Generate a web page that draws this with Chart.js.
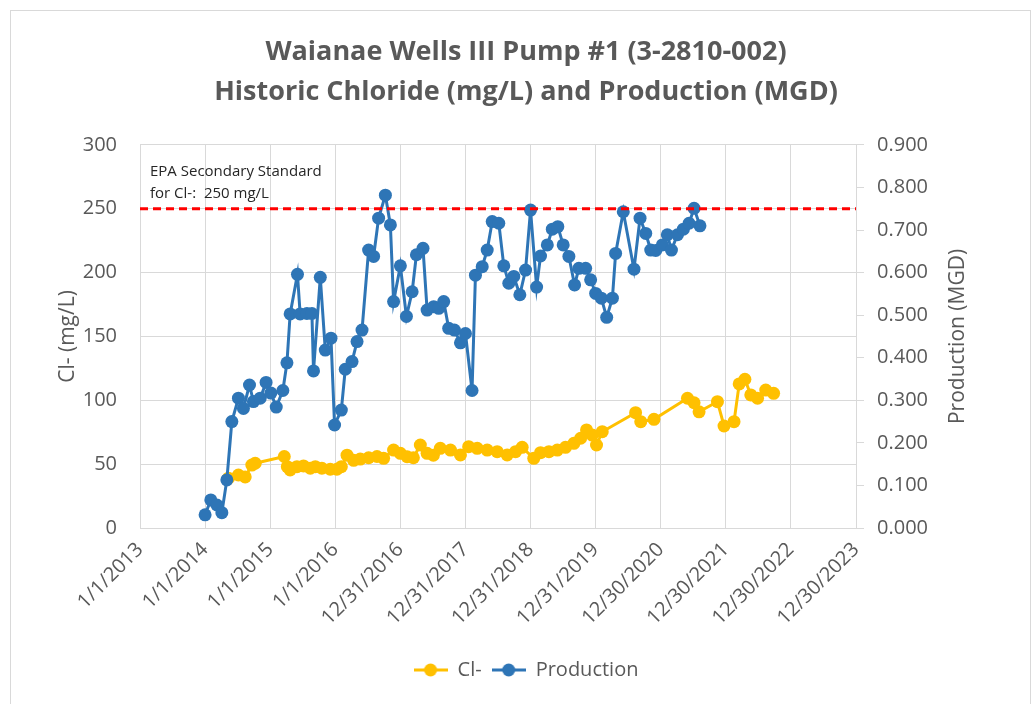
<!DOCTYPE html>
<html><head><meta charset="utf-8">
<script src="https://cdn.jsdelivr.net/npm/chart.js@4.4.1/dist/chart.umd.min.js"></script>
<style>html,body{margin:0;padding:0;background:#fff;}#wrap{position:relative;width:1032px;height:704px;}</style>
</head><body><div id="wrap"><canvas id="c" width="1032" height="704"></canvas></div>
<script>
const chartTitle = ['Waianae Wells III Pump #1 (3-2810-002)', 'Historic Chloride (mg/L) and Production (MGD)'];
const leftAxisTitle = 'Cl- (mg/L)';
const rightAxisTitle = 'Production (MGD)';
const epaLabel = ['EPA Secondary Standard', 'for Cl-:  250 mg/L'];
const epaLimit = 250;
const xTickLabels = ['1/1/2013','1/1/2014','1/1/2015','1/1/2016','12/31/2016','12/31/2017','12/31/2018','12/31/2019','12/30/2020','12/30/2021','12/30/2022','12/30/2023'];

const prodDates = ['2014-01-01','2014-02-02','2014-03-08','2014-04-05','2014-05-03','2014-05-31','2014-07-07','2014-08-04','2014-09-07','2014-09-29','2014-11-06','2014-12-09','2015-01-05','2015-02-04','2015-03-13','2015-04-05','2015-04-23','2015-06-03','2015-06-18','2015-07-26','2015-08-23','2015-09-01','2015-10-09','2015-11-06','2015-12-08','2015-12-28','2016-02-04','2016-02-26','2016-04-04','2016-05-02','2016-05-30','2016-07-06','2016-08-03','2016-08-31','2016-10-08','2016-11-05','2016-11-23','2016-12-31','2017-02-03','2017-03-07','2017-03-31','2017-05-07','2017-05-30','2017-07-06','2017-08-03','2017-08-31','2017-09-28','2017-10-30','2017-12-03','2017-12-31','2018-02-06','2018-02-25','2018-04-04','2018-05-02','2018-05-30','2018-07-06','2018-08-03','2018-08-31','2018-09-28','2018-11-01','2018-12-03','2018-12-31','2019-02-03','2019-02-25','2019-04-04','2019-05-02','2019-06-02','2019-07-02','2019-08-03','2019-09-04','2019-09-28','2019-11-05','2019-12-03','2019-12-31','2020-02-01','2020-03-02','2020-04-03','2020-04-21','2020-06-03','2020-08-02','2020-09-05','2020-10-07','2020-11-04','2020-12-02','2021-01-08','2021-02-05','2021-02-28','2021-04-03','2021-05-06','2021-06-07','2021-07-05','2021-08-07'];
const prodValues = [0.031,0.066,0.054,0.036,0.113,0.250,0.305,0.281,0.336,0.297,0.305,0.342,0.317,0.284,0.323,0.388,0.503,0.596,0.503,0.504,0.504,0.369,0.589,0.418,0.446,0.242,0.277,0.373,0.391,0.438,0.465,0.653,0.638,0.728,0.782,0.712,0.532,0.616,0.497,0.555,0.642,0.657,0.512,0.520,0.516,0.532,0.469,0.465,0.435,0.457,0.323,0.594,0.614,0.653,0.720,0.716,0.616,0.575,0.591,0.548,0.606,0.747,0.566,0.639,0.665,0.702,0.708,0.665,0.638,0.571,0.610,0.610,0.583,0.551,0.540,0.495,0.540,0.645,0.743,0.608,0.728,0.692,0.653,0.652,0.665,0.689,0.653,0.689,0.702,0.716,0.751,0.710];

const clDates = ['2014-05-12','2014-07-07','2014-08-14','2014-09-20','2014-10-09','2015-03-21','2015-04-07','2015-04-23','2015-05-31','2015-07-07','2015-08-14','2015-09-11','2015-10-18','2015-12-04','2016-01-10','2016-02-04','2016-03-07','2016-04-13','2016-05-20','2016-07-06','2016-08-22','2016-09-28','2016-11-23','2016-12-31','2017-02-07','2017-03-14','2017-04-22','2017-05-30','2017-07-04','2017-08-12','2017-10-08','2017-12-03','2018-01-18','2018-03-07','2018-05-02','2018-06-27','2018-08-22','2018-10-08','2018-11-14','2019-01-18','2019-02-25','2019-04-13','2019-05-30','2019-07-15','2019-08-31','2019-10-08','2019-11-10','2019-12-12','2020-01-05','2020-02-06','2020-08-11','2020-09-09','2020-11-22','2021-05-29','2021-07-05','2021-08-02','2021-11-13','2021-12-20','2022-02-14','2022-03-15','2022-04-16','2022-05-19','2022-06-26','2022-08-11','2022-09-24'];
const clValues = [39,41.5,40,49.3,50.7,56,48,45.4,48,48.6,46.8,48,46.8,46,46,48,57,53,54,55,56,54.6,61,58.5,55.8,55,65,58.5,57,62.4,61,57.2,63.7,62.4,61,59.8,57.2,59.8,63.2,54.6,59,59.8,61,63.2,66.3,70.3,76.8,72.8,65,75.4,90.3,83.3,85.1,101.6,98.1,91,98.9,79.9,83.3,112.8,116.5,104.2,101.6,108,105.5];

const BLUE = '#2E75B6', YELLOW = '#FFC000', RED = '#FF0000', GRAY = '#595959', GRID = '#D9D9D9';
const EPOCH = Date.UTC(1899, 11, 30);
function isoSerial(s){ const [y,m,d] = s.split('-').map(Number); return Math.round((Date.UTC(y,m-1,d)-EPOCH)/864e5); }
function mdySerial(s){ const [m,d,y] = s.split('/').map(Number); return Math.round((Date.UTC(y,m-1,d)-EPOCH)/864e5); }
const tickSerials = xTickLabels.map(mdySerial);
const xMin = tickSerials[0], xMax = tickSerials[tickSerials.length-1];

function markerCanvas(color){
  const c = document.createElement('canvas'); c.width = 34; c.height = 14;
  const g = c.getContext('2d');
  g.strokeStyle = color; g.lineWidth = 3; g.beginPath(); g.moveTo(0,7); g.lineTo(34,7); g.stroke();
  g.fillStyle = color; g.beginPath(); g.arc(17,7,6.5,0,Math.PI*2); g.fill();
  return c;
}

const extras = {
  id: 'extras',
  beforeDraw(chart){
    const ctx = chart.ctx; ctx.save();
    ctx.fillStyle = '#fff'; ctx.fillRect(0,0,chart.width,chart.height);
    ctx.strokeStyle = GRID; ctx.lineWidth = 1; ctx.strokeRect(10.5,10.5,1020,700);
    ctx.restore();
  },
  afterDraw(chart){
    const ctx = chart.ctx, a = chart.chartArea; ctx.save();
    ctx.font = '15px "Open Sans"'; ctx.fillStyle = '#262626'; ctx.textAlign = 'left'; ctx.textBaseline = 'middle';
    ctx.fillText(epaLabel[0], a.left + 10, a.top + 27);
    ctx.fillText(epaLabel[1], a.left + 10, a.top + 49);
    ctx.translate(a.right + 102, (a.top + a.bottom)/2); ctx.rotate(-Math.PI/2);
    ctx.font = '21px "Open Sans"'; ctx.fillStyle = GRAY; ctx.textAlign = 'center';
    ctx.fillText(rightAxisTitle, 0, 0);
    ctx.restore();
  }
};

Chart.defaults.font.family = '"Open Sans", sans-serif';
new Chart(document.getElementById('c'), {
  type: 'line',
  data: {
    datasets: [
      { label: 'Cl-', data: clDates.map((d,i)=>({x: isoSerial(d), y: clValues[i]})), yAxisID: 'y',
        borderColor: YELLOW, backgroundColor: YELLOW, borderWidth: 3, pointRadius: 6.5, pointBorderWidth: 0, pointHoverRadius: 6.5, order: 2 },
      { label: 'Production', data: prodDates.map((d,i)=>({x: isoSerial(d), y: prodValues[i]})), yAxisID: 'y1',
        borderColor: BLUE, backgroundColor: BLUE, borderWidth: 3, pointRadius: 6.5, pointBorderWidth: 0, pointHoverRadius: 6.5, order: 1 },
      { label: 'EPA', data: [{x: xMin, y: epaLimit}, {x: xMax, y: epaLimit}], yAxisID: 'y',
        borderColor: RED, borderWidth: 3, borderDash: [8,5], pointRadius: 0, order: 0 }
    ]
  },
  options: {
    responsive: false, animation: false,
    layout: { padding: { left: 20, right: 0, top: 0, bottom: 14 } },
    plugins: {
      tooltip: { enabled: false },
      title: { display: true, text: chartTitle, color: GRAY, font: { size: 27, weight: 'bold', lineHeight: 1.48 }, padding: { top: 32, bottom: 33 } },
      legend: { position: 'bottom',
        labels: { color: GRAY, font: { size: 20 }, usePointStyle: true, pointStyleWidth: 34, boxHeight: 14, padding: 10,
          filter: (item) => item.text !== 'EPA',
          generateLabels: (chart) => chart.data.datasets.map((ds, i) => ({ text: ds.label, datasetIndex: i, fontColor: GRAY,
            pointStyle: markerCanvas(ds.borderColor), fillStyle: ds.borderColor, strokeStyle: ds.borderColor, lineWidth: 0, hidden: false })) } }
    },
    scales: {
      x: { type: 'linear', min: xMin, max: xMax,
        afterBuildTicks: (s) => { s.ticks = tickSerials.map(v => ({ value: v })); },
        afterFit: (s) => { s.height = 122; },
        grid: { color: GRID, lineWidth: 1, drawTicks: false },
        border: { color: GRID },
        ticks: { autoSkip: false, minRotation: 45, maxRotation: 45, color: GRAY, font: { size: 20 }, padding: 10,
          callback: (v, i) => xTickLabels[i] } },
      y: { position: 'left', min: 0, max: 300,
        afterFit: (s) => { s.width = 120; },
        grid: { color: GRID, lineWidth: 1, drawTicks: false },
        border: { display: false },
        ticks: { stepSize: 50, color: GRAY, font: { size: 20 }, padding: 23 },
        title: { display: true, text: leftAxisTitle, color: GRAY, font: { size: 21 }, padding: { top: 35, bottom: 0 } } },
      y1: { position: 'right', min: 0, max: 0.9,
        afterFit: (s) => { s.width = 176; },
        grid: { drawOnChartArea: false, color: GRID, drawTicks: true, tickLength: 8 },
        border: { color: GRID },
        ticks: { stepSize: 0.1, color: GRAY, font: { size: 20 }, padding: 13, callback: (v) => Number(v).toFixed(3) } }
    }
  },
  plugins: [extras]
});
</script></body></html>
